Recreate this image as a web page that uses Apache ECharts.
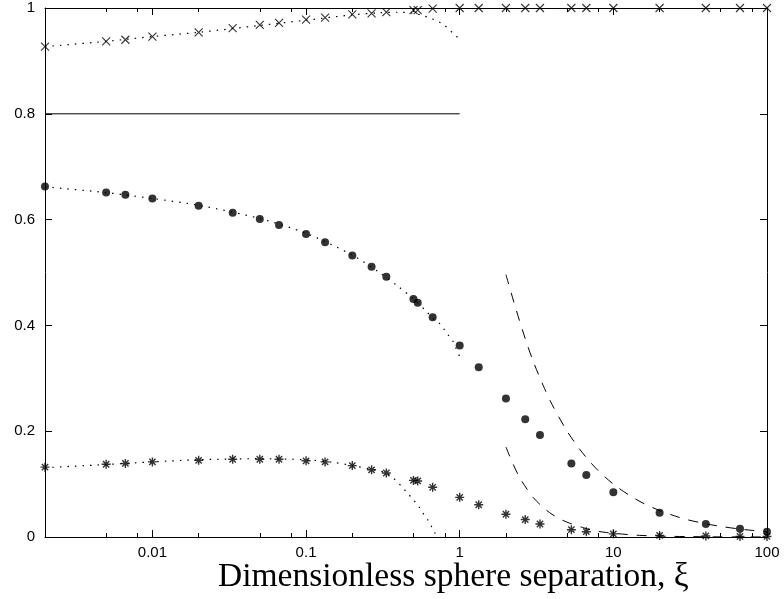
<!DOCTYPE html>
<html><head><meta charset="utf-8">
<script src="https://cdn.jsdelivr.net/npm/echarts@6/dist/echarts.min.js"></script>
<style>html,body{margin:0;padding:0;background:#fff}#c{width:784px;height:599px}</style>
</head><body><div id="c"></div>
<script>
// separations (xi) at which data points are plotted
const xi = [0.002,0.005,0.00667,0.01,0.02,0.0333,0.05,0.0667,0.1,0.133,0.2,0.267,0.333,0.5,0.533,0.667,1,1.33,2,2.67,3.33,5.33,6.67,10,20,40,66.7,100];
const crossVals  = [0.927,0.937,0.940,0.946,0.954,0.962,0.968,0.972,0.978,0.982,0.988,0.990,0.992,0.996,0.996,0.999,1,1,1,1,1,1,1,1,1,1,1,1];
const bulletVals = [0.6625,0.651,0.647,0.640,0.626,0.613,0.601,0.590,0.573,0.557,0.532,0.511,0.492,0.450,0.443,0.4155,0.362,0.321,0.262,0.2226,0.193,0.139,0.117,0.0845,0.046,0.0246,0.0157,0.010];
const starVals   = [0.132,0.1375,0.139,0.142,0.145,0.147,0.147,0.147,0.144,0.142,0.135,0.127,0.121,0.107,0.106,0.094,0.075,0.061,0.043,0.033,0.0246,0.0138,0.010,0.006,0.003,0.002,0.001,0.001];

// small-separation curves (dotted)
const crossFitX  = [0.002,0.005,0.01,0.02,0.05,0.1,0.2,0.3,0.4,0.5,0.57,0.64,0.72,0.79,0.87,0.95,1.0];
const crossFitY  = [0.927,0.937,0.946,0.954,0.967,0.977,0.987,0.991,0.992,0.990,0.986,0.981,0.975,0.968,0.957,0.947,0.940];
const bulletFitX = [0.002,0.005,0.01,0.02,0.05,0.1,0.2,0.3,0.4,0.5,0.6,0.667,0.733,0.79,0.84,0.9,0.94,1.0];
const bulletFitY = [0.662,0.651,0.640,0.627,0.602,0.574,0.533,0.500,0.473,0.450,0.428,0.414,0.405,0.393,0.382,0.371,0.358,0.341];
const starFitX   = [0.002,0.005,0.01,0.02,0.05,0.1,0.15,0.2,0.267,0.333,0.368,0.417,0.454,0.497,0.543,0.577,0.622,0.655,0.688,0.70];
const starFitY   = [0.131,0.137,0.142,0.146,0.148,0.146,0.141,0.135,0.128,0.121,0.112,0.096,0.084,0.071,0.057,0.045,0.032,0.020,0.008,0.0];

// large-separation curves (dashed)
const upperAsymX = [2,2.3,2.67,3,3.5,4,5,6,7,8,10,13,16,20,25,30,40,50,65,80,100];
const upperAsymY = [0.496,0.435,0.375,0.333,0.286,0.25,0.2,0.167,0.143,0.125,0.1,0.077,0.0625,0.05,0.04,0.033,0.025,0.02,0.0154,0.0125,0.01];
const lowerAsymX = [2,2.2,2.46,2.75,3,3.4,3.85,4.5,5.2,6.3,7.5,9,10.5,12.5,14.8,18,22,30,45,70,100];
const lowerAsymY = [0.170,0.141,0.112,0.090,0.075,0.059,0.046,0.034,0.026,0.018,0.012,0.0085,0.0065,0.0045,0.0031,0.0021,0.0014,0.0008,0.0003,0.00014,0.00007];

// reference level
const refLineX = [0.002, 1];
const refLineY = [0.8, 0.8];

// axis ticks
const xTickValues = [0.01,0.1,1,10,100];
const xTickLabels = ['0.01','0.1','1','10','100'];
const xMinorTicks = [0.005,0.008,0.02,0.05,0.08,0.2,0.5,0.8,2,5,8,20,50,80];
const yTickLabels = ['0','0.2','0.4','0.6','0.8','1'];

const zip = (a,b) => a.map((v,i)=>[v,b[i]]);
const black = '#000';
const labelFont = {color: black, fontFamily: 'Liberation Sans', fontSize: 15};

function xAxisDef(pos, minor, labels) {
  return {
    type: 'log', min: 0.002, max: 100, position: pos,
    axisLine: {show: !minor, onZero: false, lineStyle: {color: black, width: 1}},
    axisTick: minor
      ? {show: true, inside: true, length: 4, customValues: xMinorTicks, lineStyle: {color: black, width: 1}}
      : {show: true, inside: true, length: 7, lineStyle: {color: black, width: 1}},
    axisLabel: labels ? Object.assign({
      show: true, margin: 8,
      formatter: v => { const i = xTickValues.findIndex(t => Math.abs(t - v) / t < 1e-6); return i >= 0 ? xTickLabels[i] : ''; }
    }, labelFont) : {show: false},
    splitLine: {show: false}, minorTick: {show: false}
  };
}
function yAxisDef(pos, labels) {
  return {
    type: 'value', min: 0, max: 1, interval: 0.2, position: pos,
    axisLine: {show: true, onZero: false, lineStyle: {color: black, width: 1}},
    axisTick: {show: true, inside: true, length: 7, lineStyle: {color: black, width: 1}},
    axisLabel: labels ? Object.assign({show: true, margin: 10,
      formatter: v => yTickLabels[Math.round(v / 0.2)]}, labelFont) : {show: false},
    splitLine: {show: false}
  };
}

const dotted = {type: [1.5, 6], width: 1.2, color: black};
const dashed = {type: [10, 9], width: 1, color: black};
function curve(data, style) {
  return {type: 'line', data, showSymbol: false, symbol: 'none', smooth: 0.3,
    lineStyle: style, silent: true, z: 1, xAxisIndex: 0, yAxisIndex: 0};
}

const chart = echarts.init(document.getElementById('c'), null, {renderer: 'canvas'});
chart.setOption({
  animation: false,
  backgroundColor: '#fff',
  grid: {left: 45, right: 17, top: 8, bottom: 62, containLabel: false},
  title: {text: 'Dimensionless sphere separation, ξ', left: 218, top: 560, padding: 0,
    textStyle: {fontFamily: 'Liberation Serif', fontSize: 33.5, fontWeight: 'normal', color: black}},
  xAxis: [xAxisDef('bottom', false, true), xAxisDef('bottom', true, false), xAxisDef('top', false, false), xAxisDef('top', true, false)],
  yAxis: [yAxisDef('left', true), yAxisDef('right', false)],
  series: [
    {type: 'line', data: zip(refLineX, refLineY), showSymbol: false, symbol: 'none',
      lineStyle: {type: 'solid', width: 1, color: black}, silent: true},
    curve(zip(crossFitX, crossFitY), dotted),
    curve(zip(bulletFitX, bulletFitY), dotted),
    curve(zip(starFitX, starFitY), dotted),
    curve(zip(upperAsymX, upperAsymY), dashed),
    curve(zip(lowerAsymX, lowerAsymY), dashed),
    {type: 'scatter', data: zip(xi, crossVals), symbol: 'path://M0,0L10,10M10,0L0,10', symbolSize: 8,
      itemStyle: {color: 'rgba(0,0,0,0)', borderColor: black, borderWidth: 1.1}, clip: false, silent: true, z: 3},
    {type: 'scatter', data: zip(xi, bulletVals), symbol: 'circle', symbolSize: 8,
      itemStyle: {color: black}, clip: false, silent: true, z: 3},
    {type: 'scatter', data: zip(xi, starVals), symbol: 'path://M5,0L5,10M0,5L10,5M1.5,1.5L8.5,8.5M8.5,1.5L1.5,8.5', symbolSize: 9,
      itemStyle: {color: 'rgba(0,0,0,0)', borderColor: black, borderWidth: 1.4}, clip: false, silent: true, z: 3}
  ]
});
</script></body></html>
